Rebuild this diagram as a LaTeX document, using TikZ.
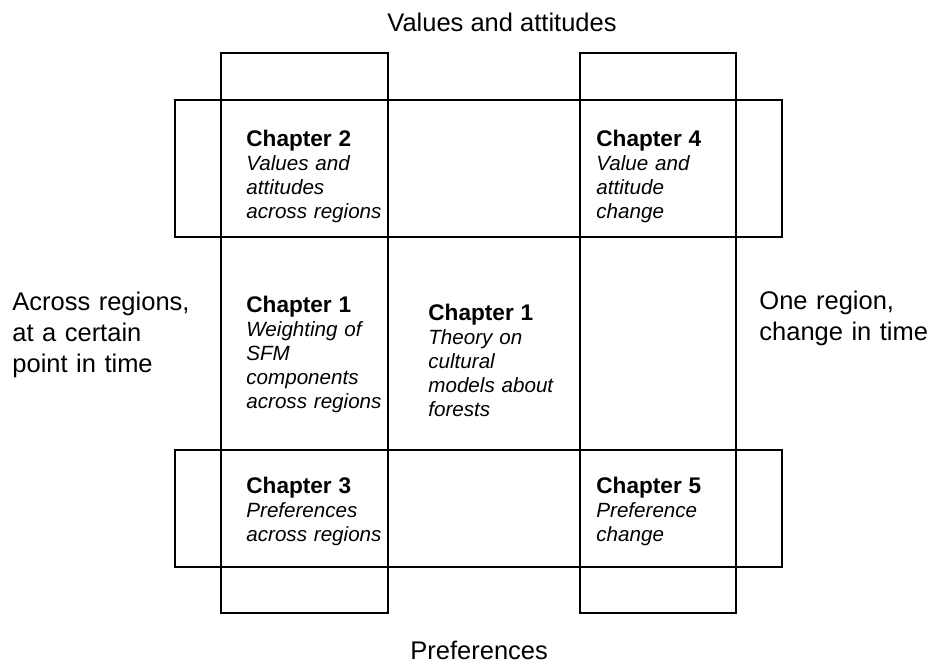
\documentclass[tikz,border=0pt]{standalone}
\usepackage{fontspec}
\setmainfont{Liberation Sans}
\begin{document}
\begin{tikzpicture}[x=0.5pt,y=-0.5pt,
  frame/.style={draw=black,line width=0.6pt},
  axislabel/.style={anchor=base west,inner sep=0pt,align=left,
    font=\fontsize{12.75}{15.5}\selectfont},
  chapterbox/.style={anchor=base west,inner sep=0pt,text width=150pt,align=left,
    font=\fontsize{10.3}{12}\selectfont\itshape},
]
\useasboundingbox (0,0) rectangle (929,664);
\newcommand{\chaptitle}[1]{{\upshape\bfseries\fontsize{11.3}{12}\selectfont #1}}

% two columns and two bands of the grid
\draw[frame] (221,53) rectangle (388,613);
\draw[frame] (580,53) rectangle (736,613);
\draw[frame] (175,100) rectangle (782,237);
\draw[frame] (175,450) rectangle (782,567);

% axis labels
\node[axislabel] (top) at (387,31) {Values and attitudes};
\node[axislabel] (bottom) at (410,659) {Preferences};
\node[axislabel,text width=200pt] (left) at (12,310) {Across regions,\\at a certain\\point in time};
\node[axislabel,text width=200pt] (right) at (759,309) {One region,\\change in time};

% chapters
\node[chapterbox] (ch2) at (246,146) {\chaptitle{Chapter 2}\\Values and\\attitudes\\across regions};
\node[chapterbox] (ch4) at (596,146) {\chaptitle{Chapter 4}\\Value and\\attitude\\change};
\node[chapterbox] (ch1a) at (246,312) {\chaptitle{Chapter 1}\\Weighting of\\SFM\\components\\across regions};
\node[chapterbox] (ch1b) at (428,320) {\chaptitle{Chapter 1}\\Theory on\\cultural\\models about\\forests};
\node[chapterbox] (ch3) at (246,493) {\chaptitle{Chapter 3}\\Preferences\\across regions};
\node[chapterbox] (ch5) at (596,493) {\chaptitle{Chapter 5}\\Preference\\change};
\end{tikzpicture}
\end{document}
